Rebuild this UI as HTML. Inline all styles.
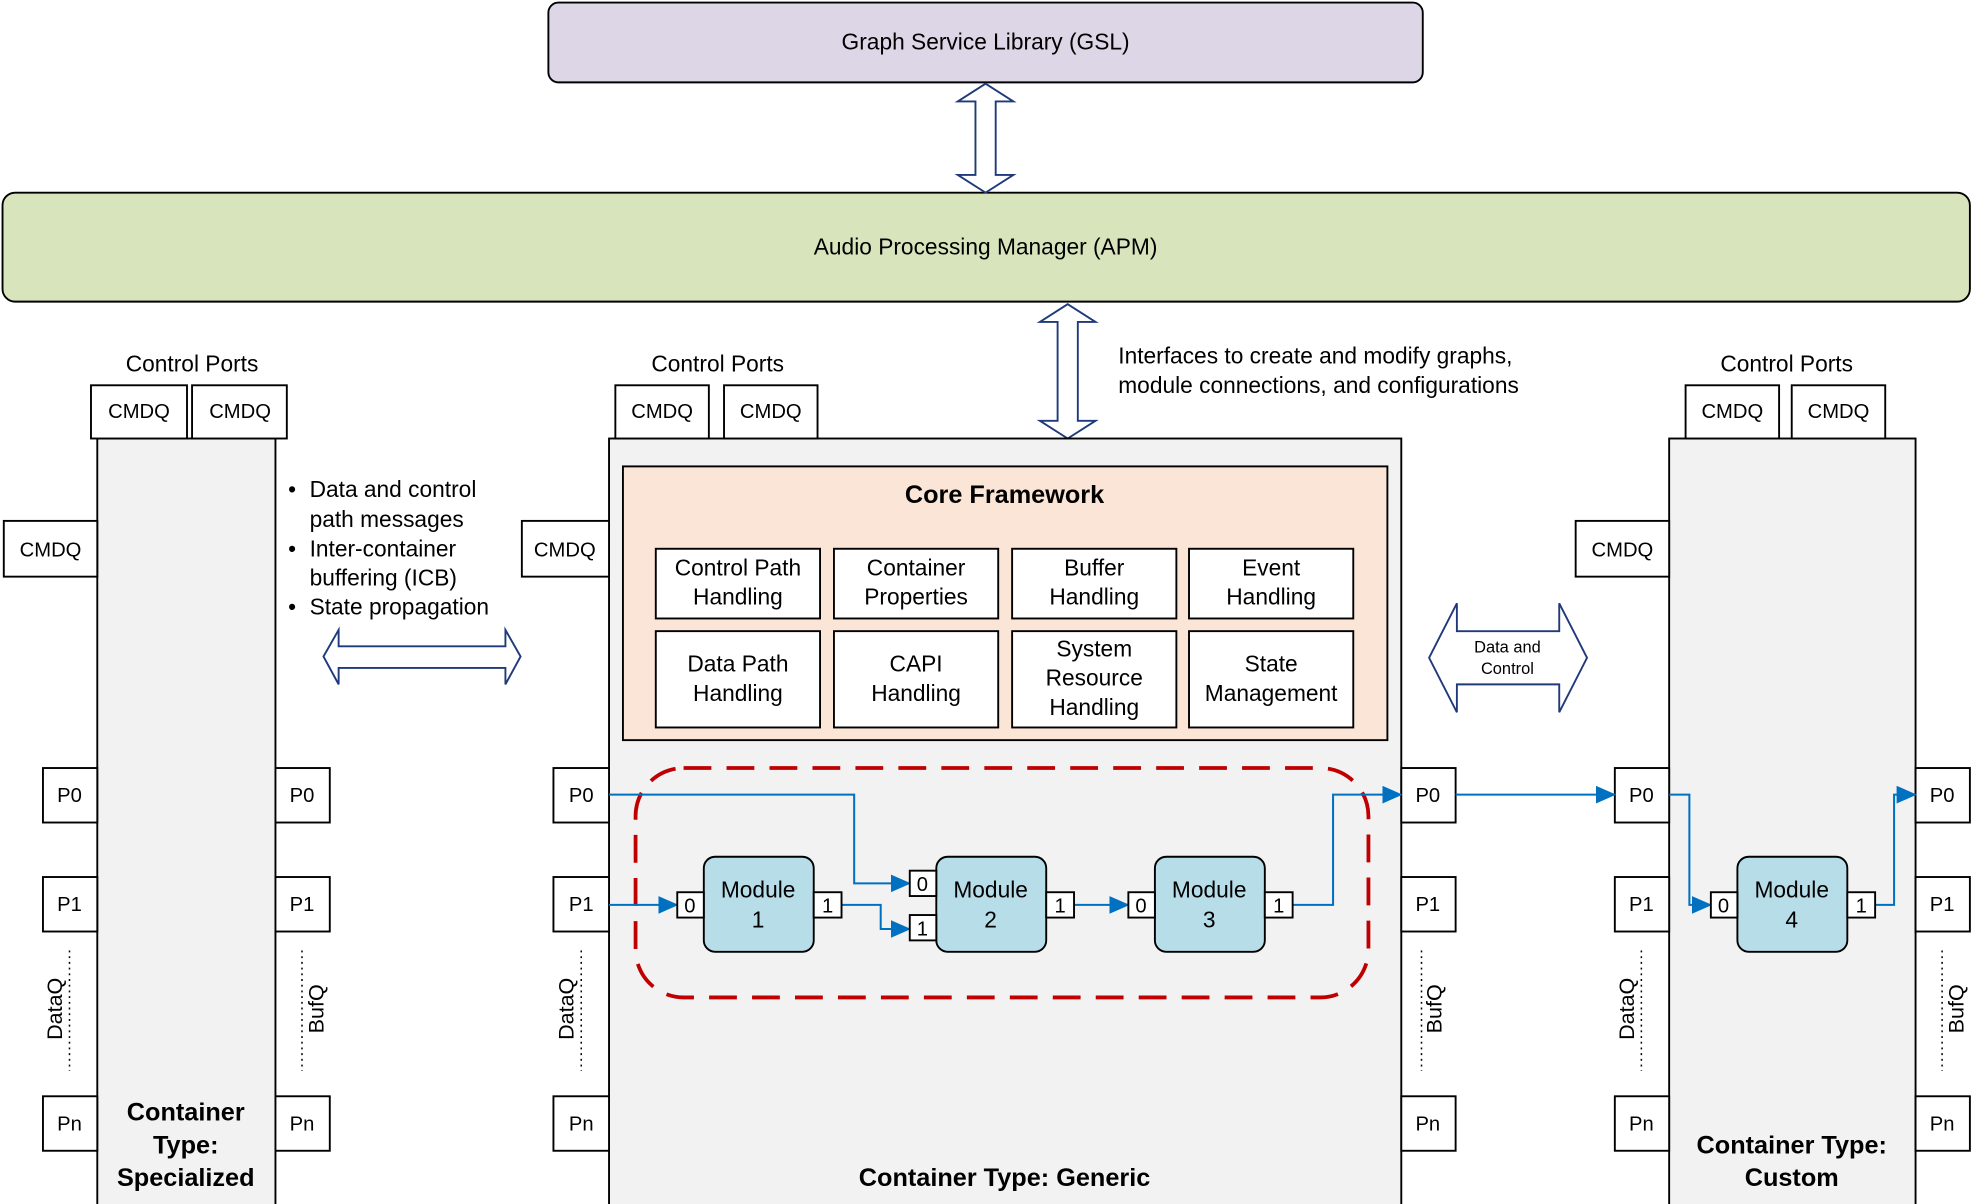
<!DOCTYPE html>
<html><head><meta charset="utf-8"><style>
html,body{margin:0;padding:0;background:#fff;}
svg{display:block;}
text{font-family:"Liberation Sans",Arial,sans-serif;fill:#000;}
</style></head><body>
<svg width="1980" height="1204" viewBox="0 0 1567 950" preserveAspectRatio="none" xmlns="http://www.w3.org/2000/svg">
<defs>
<marker id="ah2" markerWidth="16" markerHeight="14" refX="15" refY="7" orient="auto" markerUnits="userSpaceOnUse"><path d="M0,0 L16,7 L0,14 z" fill="#0070c0"/></marker>
</defs>
<g stroke="#000" stroke-width="1.5">
<rect x="434" y="2" width="692" height="63" rx="8" fill="#dcd6e6"/>
<rect x="2" y="152" width="1557" height="86" rx="10" fill="#d8e4bc"/>
</g>
<text x="780" y="39" font-size="18" text-anchor="middle">Graph Service Library (GSL)</text>
<text x="780" y="201" font-size="18" text-anchor="middle">Audio Processing Manager (APM)</text>
<g fill="#fff" stroke="#1f3a7a" stroke-width="1.5">
<path d="M780,66 L802,80 L788,80 L788,138 L802,138 L780,152 L758,138 L772,138 L772,80 L758,80 Z"/>
<path d="M845,240 L867,254 L853,254 L853,332 L867,332 L845,346 L823,332 L837,332 L837,254 L823,254 Z"/>
<path d="M256,518 L268,497 L268,510 L400,510 L400,497 L412,518 L400,540 L400,527 L268,527 L268,540 Z"/>
<path d="M1131,519 L1153,476 L1153,498 L1234,498 L1234,476 L1256,519 L1234,562 L1234,540 L1153,540 L1153,562 Z"/>
</g>
<text x="1193" y="515" font-size="13" text-anchor="middle">Data and</text>
<text x="1193" y="532" font-size="13" text-anchor="middle">Control</text>
<text x="885" y="287" font-size="18">Interfaces to create and modify graphs,</text>
<text x="885" y="310" font-size="18">module connections, and configurations</text>
<g font-size="18">
<text x="228" y="392">•</text><text x="245" y="392">Data and control</text>
<text x="245" y="416">path messages</text>
<text x="228" y="439">•</text><text x="245" y="439">Inter-container</text>
<text x="245" y="462">buffering (ICB)</text>
<text x="228" y="485">•</text><text x="245" y="485">State propagation</text>
</g>
<g stroke="#000" stroke-width="1.5" fill="#f2f2f2">
<rect x="77" y="346" width="141" height="606"/>
<rect x="482" y="346" width="627" height="606"/>
<rect x="1321" y="346" width="195" height="606"/>
</g>
<g stroke="#000" stroke-width="1.5" fill="#fff">
<rect x="72" y="304" width="76" height="42"/><rect x="152" y="304" width="75" height="42"/>
<rect x="487" y="304" width="74" height="42"/><rect x="573" y="304" width="74" height="42"/>
<rect x="1334" y="304" width="74" height="42"/><rect x="1418" y="304" width="74" height="42"/>
<rect x="3" y="411" width="74" height="44"/><rect x="413" y="411" width="69" height="44"/><rect x="1247" y="411" width="74" height="44"/>
<rect x="34" y="606" width="43" height="43"/><rect x="34" y="692" width="43" height="43"/><rect x="34" y="865" width="43" height="43"/>
<rect x="218" y="606" width="43" height="43"/><rect x="218" y="692" width="43" height="43"/><rect x="218" y="865" width="43" height="43"/>
<rect x="438" y="606" width="44" height="43"/><rect x="438" y="692" width="44" height="43"/><rect x="438" y="865" width="44" height="43"/>
<rect x="1109" y="606" width="43" height="43"/><rect x="1109" y="692" width="43" height="43"/><rect x="1109" y="865" width="43" height="43"/>
<rect x="1278" y="606" width="43" height="43"/><rect x="1278" y="692" width="43" height="43"/><rect x="1278" y="865" width="43" height="43"/>
<rect x="1516" y="606" width="43" height="43"/><rect x="1516" y="692" width="43" height="43"/><rect x="1516" y="865" width="43" height="43"/>
</g>
<g font-size="16" text-anchor="middle">
<text x="110" y="330">CMDQ</text><text x="190" y="330">CMDQ</text>
<text x="524" y="330">CMDQ</text><text x="610" y="330">CMDQ</text>
<text x="1371" y="330">CMDQ</text><text x="1455" y="330">CMDQ</text>
<text x="40" y="439">CMDQ</text><text x="447" y="439">CMDQ</text><text x="1284" y="439">CMDQ</text>
<text x="55" y="633">P0</text><text x="55" y="719">P1</text><text x="55" y="892">Pn</text>
<text x="239" y="633">P0</text><text x="239" y="719">P1</text><text x="239" y="892">Pn</text>
<text x="460" y="633">P0</text><text x="460" y="719">P1</text><text x="460" y="892">Pn</text>
<text x="1130" y="633">P0</text><text x="1130" y="719">P1</text><text x="1130" y="892">Pn</text>
<text x="1299" y="633">P0</text><text x="1299" y="719">P1</text><text x="1299" y="892">Pn</text>
<text x="1537" y="633">P0</text><text x="1537" y="719">P1</text><text x="1537" y="892">Pn</text>
</g>
<g font-size="18" text-anchor="middle">
<text x="152" y="293">Control Ports</text><text x="568" y="293">Control Ports</text><text x="1414" y="293">Control Ports</text>
</g>
<g stroke="#000" stroke-width="1.2" stroke-dasharray="1.5,3">
<line x1="55" y1="750" x2="55" y2="845"/><line x1="239" y1="750" x2="239" y2="845"/>
<line x1="460" y1="750" x2="460" y2="845"/><line x1="1125" y1="750" x2="1125" y2="845"/>
<line x1="1299" y1="750" x2="1299" y2="845"/><line x1="1537" y1="750" x2="1537" y2="845"/>
</g>
<g font-size="17" text-anchor="middle">
<text transform="translate(49,796) rotate(-90)">DataQ</text>
<text transform="translate(256,796) rotate(-90)">BufQ</text>
<text transform="translate(454,796) rotate(-90)">DataQ</text>
<text transform="translate(1141,796) rotate(-90)">BufQ</text>
<text transform="translate(1293,796) rotate(-90)">DataQ</text>
<text transform="translate(1554,796) rotate(-90)">BufQ</text>
</g>
<rect x="493" y="368" width="605" height="216" fill="#fbe5d6" stroke="#000" stroke-width="1.5"/>
<text x="795" y="397" font-size="20" font-weight="bold" text-anchor="middle">Core Framework</text>
<g stroke="#000" stroke-width="1.5" fill="#fff">
<rect x="519" y="433" width="130" height="55"/><rect x="660" y="433" width="130" height="55"/><rect x="801" y="433" width="130" height="55"/><rect x="941" y="433" width="130" height="55"/>
<rect x="519" y="498" width="130" height="76"/><rect x="660" y="498" width="130" height="76"/><rect x="801" y="498" width="130" height="76"/><rect x="941" y="498" width="130" height="76"/>
</g>
<g font-size="18" text-anchor="middle">
<text x="584" y="454">Control Path</text><text x="584" y="477">Handling</text>
<text x="725" y="454">Container</text><text x="725" y="477">Properties</text>
<text x="866" y="454">Buffer</text><text x="866" y="477">Handling</text>
<text x="1006" y="454">Event</text><text x="1006" y="477">Handling</text>
<text x="584" y="530">Data Path</text><text x="584" y="553">Handling</text>
<text x="725" y="530">CAPI</text><text x="725" y="553">Handling</text>
<text x="866" y="518">System</text><text x="866" y="541">Resource</text><text x="866" y="564">Handling</text>
<text x="1006" y="530">State</text><text x="1006" y="553">Management</text>
</g>
<rect x="503" y="606" width="580" height="181" rx="38" fill="none" stroke="#c00000" stroke-width="3" stroke-dasharray="22,12"/>
<g stroke="#0070c0" stroke-width="1.6" fill="none">
<path d="M482,627 L676,627 L676,697 L720,697" marker-end="url(#ah2)"/>
<path d="M482,714 L536,714" marker-end="url(#ah2)"/>
<path d="M666,714 L697,714 L697,733 L720,733" marker-end="url(#ah2)"/>
<path d="M850,714 L893,714" marker-end="url(#ah2)"/>
<path d="M1023,714 L1055,714 L1055,627 L1109,627" marker-end="url(#ah2)"/>
<path d="M1152,627 L1278,627" marker-end="url(#ah2)"/>
<path d="M1321,627 L1337,627 L1337,714 L1354,714" marker-end="url(#ah2)"/>
<path d="M1484,714 L1499,714 L1499,627 L1516,627" marker-end="url(#ah2)"/>
</g>
<g stroke="#000" stroke-width="1.5">
<rect x="557" y="676" width="87" height="75" rx="9" fill="#b7dde8"/>
<rect x="741" y="676" width="87" height="75" rx="9" fill="#b7dde8"/>
<rect x="914" y="676" width="87" height="75" rx="9" fill="#b7dde8"/>
<rect x="1375" y="676" width="87" height="75" rx="9" fill="#b7dde8"/>
<g fill="#fff">
<rect x="536" y="704" width="21" height="20"/><rect x="644" y="704" width="22" height="20"/>
<rect x="720" y="687" width="21" height="20"/><rect x="720" y="722" width="21" height="20"/><rect x="828" y="704" width="22" height="20"/>
<rect x="893" y="704" width="21" height="20"/><rect x="1001" y="704" width="22" height="20"/>
<rect x="1354" y="704" width="21" height="20"/><rect x="1462" y="704" width="22" height="20"/>
</g>
</g>
<g font-size="16" text-anchor="middle">
<text x="546" y="720">0</text><text x="655" y="720">1</text>
<text x="730" y="703">0</text><text x="730" y="738">1</text><text x="839" y="720">1</text>
<text x="903" y="720">0</text><text x="1012" y="720">1</text>
<text x="1364" y="720">0</text><text x="1473" y="720">1</text>
</g>
<g font-size="18" text-anchor="middle">
<text x="600" y="708">Module</text><text x="600" y="732">1</text>
<text x="784" y="708">Module</text><text x="784" y="732">2</text>
<text x="957" y="708">Module</text><text x="957" y="732">3</text>
<text x="1418" y="708">Module</text><text x="1418" y="732">4</text>
</g>
<g font-size="20" font-weight="bold" text-anchor="middle">
<text x="147" y="884">Container</text><text x="147" y="910">Type:</text><text x="147" y="936">Specialized</text>
<text x="795" y="936">Container Type: Generic</text>
<text x="1418" y="910">Container Type:</text><text x="1418" y="936">Custom</text>
</g>
</svg>
</body></html>
